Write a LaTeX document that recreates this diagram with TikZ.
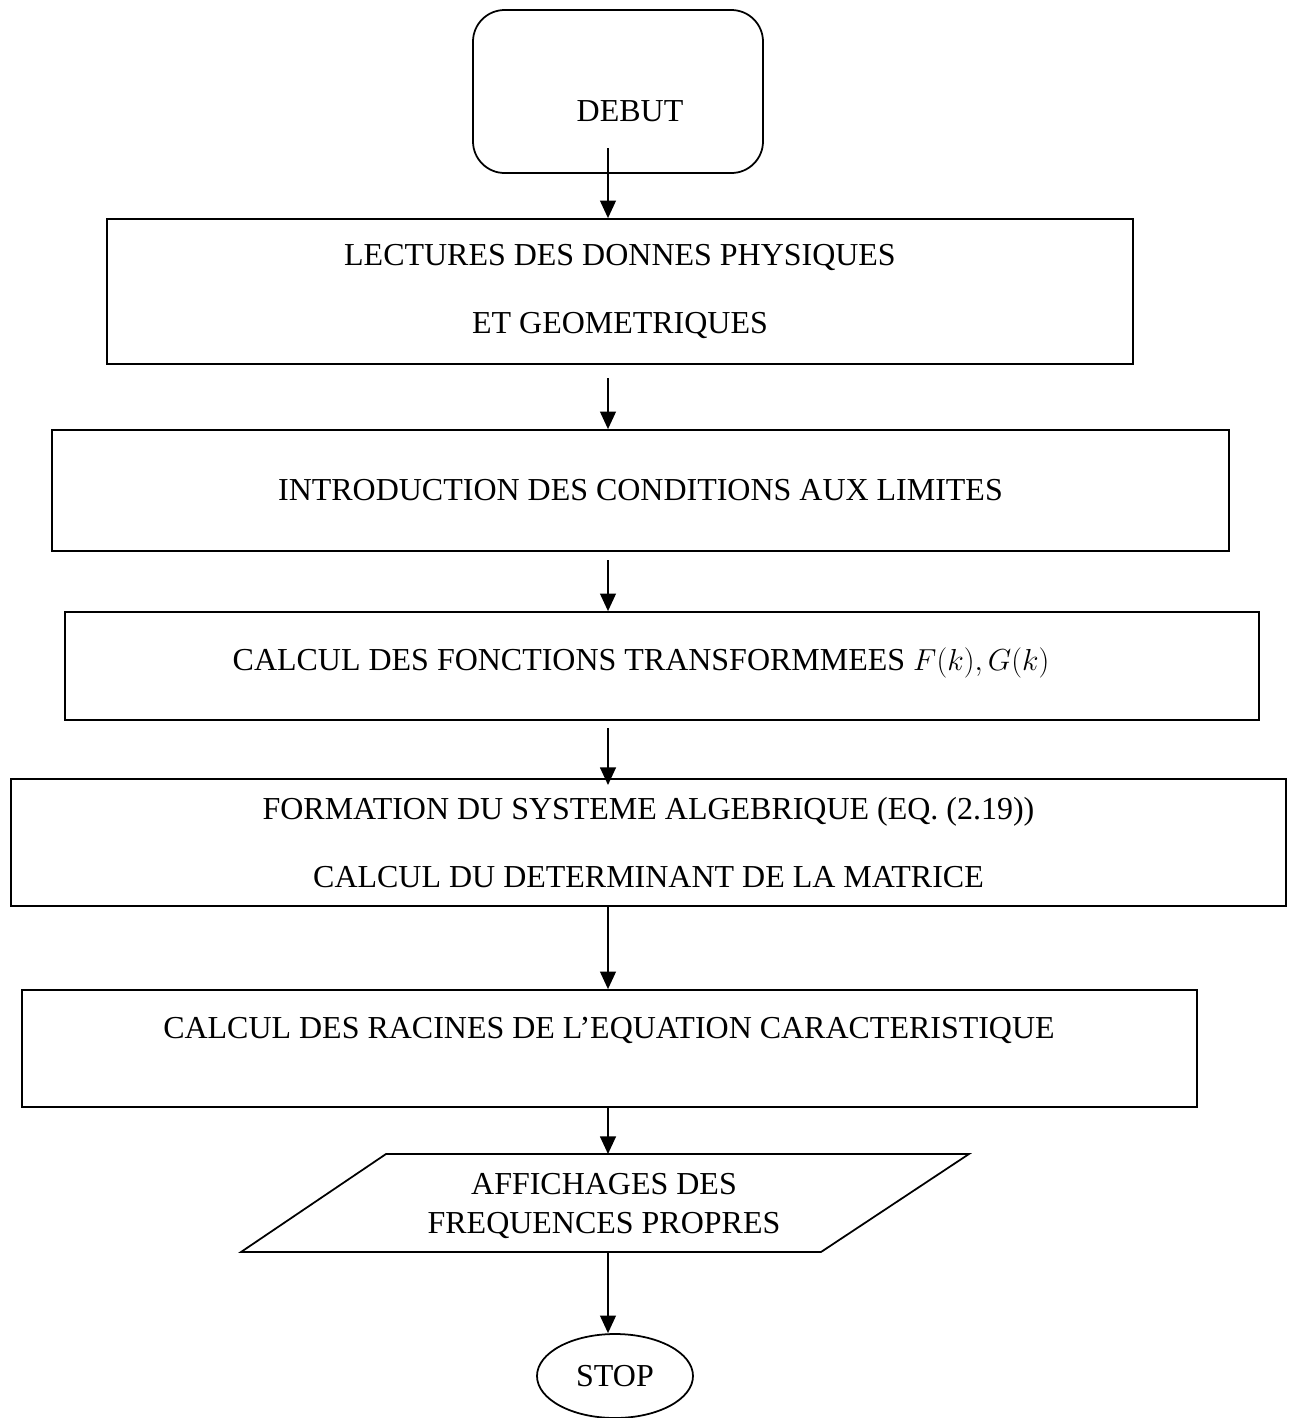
\documentclass[tikz,border=0pt]{standalone}
\usepackage{fontspec}
\setmainfont{Liberation Serif}
\usetikzlibrary{arrows.meta,shapes.geometric}
\begin{document}
\begin{tikzpicture}[x=0.02cm,y=-0.02cm,
  every node/.style={font=\fontsize{18.2}{38.5}\selectfont, inner sep=0pt},
  box/.style={draw, line width=1pt, rectangle, align=center},
  shapeline/.style={draw, line width=1pt},
  arr/.style={line width=1pt, -{Triangle[width=9pt,length=10pt]}}]
\useasboundingbox (0,0) rectangle (1293,1418);
% DEBUT
\node[box, rounded corners=18pt, minimum width=290*0.02cm, minimum height=163*0.02cm] (debut) at (618,91.5) {};
\node (debutt) at (630,111) {DEBUT};
% boxes
\node[box, minimum width=1026*0.02cm, minimum height=145*0.02cm] (b1) at (620,291.5) {LECTURES DES DONNES PHYSIQUES\\ET GEOMETRIQUES};
\node[box, minimum width=1177*0.02cm, minimum height=121*0.02cm] (b2) at (640.5,490.5) {INTRODUCTION DES CONDITIONS AUX LIMITES};
\node[box, minimum width=1194*0.02cm, minimum height=108*0.02cm] (b3) at (662,666) {};
\node (b3t) at (641,663) {CALCUL DES FONCTIONS TRANSFORMMEES $F(k), G(k)$};
\node[box, minimum width=1275*0.02cm, minimum height=127*0.02cm] (b4) at (648.5,842.5) {FORMATION DU SYSTEME ALGEBRIQUE (EQ. (2.19))\\CALCUL DU DETERMINANT DE LA MATRICE};
\node[box, minimum width=1175*0.02cm, minimum height=117*0.02cm] (b5) at (609.5,1048.5) {};
\node (b5t) at (609,1030) {CALCUL DES RACINES DE L'EQUATION CARACTERISTIQUE};
% parallelogram
\coordinate (ptl) at (386,1154);
\coordinate (ptr) at (969,1154);
\coordinate (pbr) at (821,1252);
\coordinate (pbl) at (241,1252);
\draw[shapeline, line join=miter] (ptl) -- (ptr) -- (pbr) -- (pbl) -- cycle;
\node[align=center, font=\fontsize{18.2}{22.2}\selectfont] (part) at (604,1206) {AFFICHAGES DES\\FREQUENCES PROPRES};
\coordinate (partop) at (608,1154);
\coordinate (parbot) at (608,1252);
% stop
\node[draw, line width=1pt, ellipse, minimum width=156*0.02cm, minimum height=84*0.02cm] (stop) at (615,1376) {STOP};
% connectors
\coordinate (a1s) at (608,148);
\coordinate (a2s) at (608,378);
\coordinate (a3s) at (608,560);
\coordinate (a4s) at (608,728);
\coordinate (a4e) at (608,785);
\draw[arr] (a1s) -- (a1s |- b1.north);
\draw[arr] (a2s) -- (a2s |- b2.north);
\draw[arr] (a3s) -- (a3s |- b3.north);
\draw[arr] (a4s) -- (a4e);
\draw[arr] (a4s |- b4.south) -- (a4s |- b5.north);
\draw[arr] (a4s |- b5.south) -- (partop);
\draw[arr] (parbot) -- (a4s |- stop.north);
\end{tikzpicture}
\end{document}
